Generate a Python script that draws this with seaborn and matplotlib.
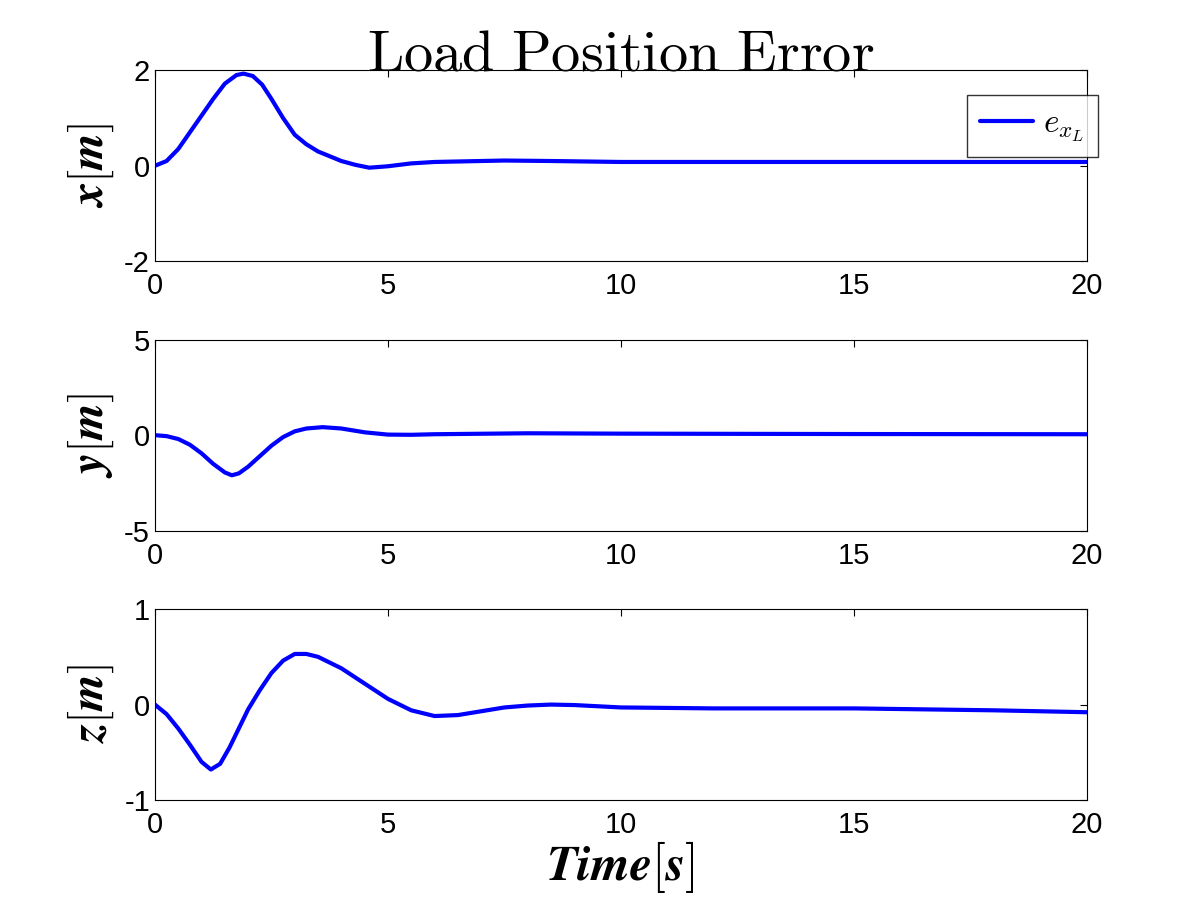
import seaborn as sns
import matplotlib.pyplot as plt
import pandas as pd

# values
t_x = [0, 0.25, 0.5, 0.75, 1.0, 1.25, 1.5, 1.75, 1.9, 2.1, 2.3, 2.5, 2.75, 3.0, 3.25, 3.5, 4.0, 4.3, 4.6, 5.0, 5.5, 6.0, 7.0, 7.5, 8.5, 10, 12, 15, 17.5, 20]
x_err = [0.0, 0.1, 0.35, 0.7, 1.05, 1.4, 1.72, 1.9, 1.93, 1.88, 1.7, 1.4, 1.0, 0.65, 0.45, 0.3, 0.1, 0.02, -0.04, -0.01, 0.05, 0.08, 0.1, 0.11, 0.1, 0.08, 0.08, 0.08, 0.08, 0.08]
t_y = [0, 0.25, 0.5, 0.75, 1.0, 1.25, 1.5, 1.65, 1.8, 2.0, 2.25, 2.5, 2.75, 3.0, 3.25, 3.6, 4.0, 4.5, 5.0, 5.5, 6.0, 8.0, 10, 15, 20]
y_err = [0.0, -0.05, -0.2, -0.5, -0.95, -1.5, -1.95, -2.1, -2.0, -1.65, -1.1, -0.55, -0.1, 0.2, 0.35, 0.42, 0.35, 0.15, 0.03, 0.02, 0.05, 0.1, 0.08, 0.06, 0.05]
t_z = [0, 0.25, 0.5, 0.75, 1.0, 1.2, 1.4, 1.6, 1.8, 2.0, 2.25, 2.5, 2.75, 3.0, 3.25, 3.5, 4.0, 4.5, 5.0, 5.5, 6.0, 6.5, 7.0, 7.5, 8.0, 8.5, 9.0, 10, 12, 15, 18, 20]
z_err = [0.0, -0.1, -0.25, -0.42, -0.6, -0.68, -0.62, -0.45, -0.25, -0.05, 0.15, 0.33, 0.46, 0.53, 0.53, 0.5, 0.38, 0.22, 0.06, -0.06, -0.12, -0.11, -0.07, -0.03, -0.01, 0.0, -0.005, -0.03, -0.04, -0.04, -0.06, -0.08]

sns.set_style("white")
plt.rcParams['font.family'] = ['Liberation Sans', 'DejaVu Sans']
plt.rcParams['mathtext.fontset'] = 'cm'
plt.rcParams['xtick.direction'] = 'in'
plt.rcParams['ytick.direction'] = 'in'
plt.rcParams['axes.unicode_minus'] = False
plt.rcParams['text.color'] = 'black'
plt.rcParams['axes.labelcolor'] = 'black'
plt.rcParams['xtick.color'] = 'black'
plt.rcParams['ytick.color'] = 'black'

fig = plt.figure(figsize=(12.01, 9.01), dpi=100)
left, width, height = 0.129, 0.776, 0.212
bottoms = [0.710, 0.411, 0.112]
series = [(t_x, x_err, (-2, 2), [-2, 0, 2], 'x'),
          (t_y, y_err, (-5, 5), [-5, 0, 5], 'y'),
          (t_z, z_err, (-1, 1), [-1, 0, 1], 'z')]

axes = []
for b, (t, v, ylim, yticks, name) in zip(bottoms, series):
    ax = fig.add_axes([left, b, width, height])
    df = pd.DataFrame({'t': t, 'v': v})
    sns.lineplot(data=df, x='t', y='v', ax=ax, color='#0000ff', linewidth=3,
                 label=r'$\boldsymbol{e_{x_L}}$' if name == 'x' else None, legend=False)
    ax.set_xlim(0, 20)
    ax.set_ylim(*ylim)
    ax.set_xticks([0, 5, 10, 15, 20])
    ax.set_yticks(yticks)
    ax.tick_params(labelsize=21, length=5, top=True, right=True)
    ax.tick_params(axis='x', pad=8)
    ax.set_xlabel('')
    ax.set_ylabel(r'$\boldsymbol{' + name + r'[m]}$', fontsize=34, labelpad=6)
    for s in ax.spines.values():
        s.set_color('black')
    axes.append(ax)

axes[0].legend(loc='upper right', fontsize=24, frameon=True, fancybox=False,
               edgecolor='black', handlelength=1.6, handletextpad=0.3,
               borderaxespad=0.0, bbox_to_anchor=(1.012, 0.87))
axes[0].set_title(r'$\mathrm{Load\ Position\ Error}$', fontsize=42, pad=0)
axes[2].set_xlabel(r'$\boldsymbol{Time[s]}$', fontsize=36, labelpad=0)

fig.savefig('out.png', dpi=100)
